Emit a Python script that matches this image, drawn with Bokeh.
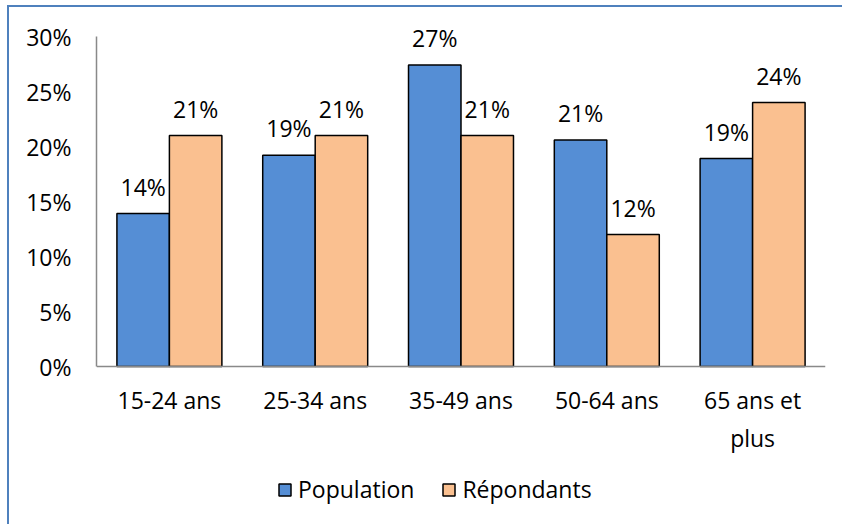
from bokeh.plotting import figure
from bokeh.layouts import column
from bokeh.models import (FactorRange, ColumnDataSource, Legend, LegendItem,
                          PrintfTickFormatter, Range1d, LabelSet, FixedTicker)
from bokeh.transform import dodge
from bokeh.core.properties import value
from bokeh.embed import file_html
from bokeh.resources import INLINE

categories = ["15-24 ans", "25-34 ans", "35-49 ans", "50-64 ans", "65 ans et\nplus"]
population = [13.9, 19.2, 27.4, 20.6, 18.9]
repondants = [21.0, 21.0, 21.0, 12.0, 24.0]
series_names = ["Population", "Répondants"]
y_ticks = [0, 5, 10, 15, 20, 25, 30]

FONT = "Open Sans"
FS = "23px"
BLUE = "#558ED5"
ORANGE = "#FAC090"

source = ColumnDataSource(data=dict(
    cat=categories,
    pop=population,
    rep=repondants,
    pop_label=[f"{round(v)}%" for v in population],
    rep_label=[f"{round(v)}%" for v in repondants],
))

W, H = 833, 517
ZERO_PX = 359          # px from top of canvas to the 0% line
PX_PER_UNIT = 11.0     # px per percentage point
y_end = ZERO_PX / PX_PER_UNIT
y_start = -(H - ZERO_PX) / PX_PER_UNIT

p = figure(width=W, height=H, x_range=FactorRange(factors=categories, range_padding=0),
           y_range=Range1d(y_start, y_end), output_backend="svg", toolbar_location=None,
           min_border_left=87, min_border_right=W - 816, min_border_top=0, min_border_bottom=0)
p.outline_line_color = None
p.grid.grid_line_color = None
p.background_fill_color = "white"
p.border_fill_color = "white"

r_pop = p.vbar(x=dodge("cat", -0.18, range=p.x_range), top="pop", width=0.36, source=source,
               fill_color=BLUE, line_color="black", line_width=1.5)
r_rep = p.vbar(x=dodge("cat", 0.18, range=p.x_range), top="rep", width=0.36, source=source,
               fill_color=ORANGE, line_color="black", line_width=1.5)

for col, lab, off in (("pop", "pop_label", -0.18), ("rep", "rep_label", 0.18)):
    ls = LabelSet(x=dodge("cat", off, range=p.x_range), y=col, text=lab, source=source,
                  text_align="center", text_baseline="alphabetic", y_offset=18,
                  text_font=value(FONT), text_font_size=value(FS), text_color="black")
    p.add_layout(ls)

for ax in (p.xaxis[0], p.yaxis[0]):
    ax.axis_line_color = "#898989"
    ax.axis_line_width = 1.5
    ax.major_tick_line_color = None
    ax.minor_tick_line_color = None
    ax.major_tick_out = 0
    ax.major_tick_in = 0
    ax.major_label_text_font = FONT
    ax.major_label_text_font_size = FS
    ax.major_label_text_color = "black"

p.xaxis.fixed_location = 0
p.yaxis.ticker = FixedTicker(ticks=y_ticks)
p.yaxis.bounds = (0, 30)
p.yaxis.formatter = PrintfTickFormatter(format="%d%%")
p.yaxis.major_label_standoff = 25
p.xaxis.major_label_standoff = 17

legend = Legend(items=[LegendItem(label=series_names[0], renderers=[r_pop]),
                       LegendItem(label=series_names[1], renderers=[r_rep])],
                location=(181, 18 - (516 - H)), orientation="horizontal",
                glyph_width=15, glyph_height=15, label_standoff=6, spacing=27,
                padding=0, margin=0, border_line_color=None, background_fill_alpha=0,
                label_text_font=FONT, label_text_font_size=FS, label_text_color="black")
p.add_layout(legend)

layout = column(p, styles={"border-top": "2px solid #4F81BD",
                           "border-left": "2px solid #4F81BD",
                           "margin-left": "7px", "margin-top": "5px"})

open("out.html", "w").write(file_html(layout, INLINE))
